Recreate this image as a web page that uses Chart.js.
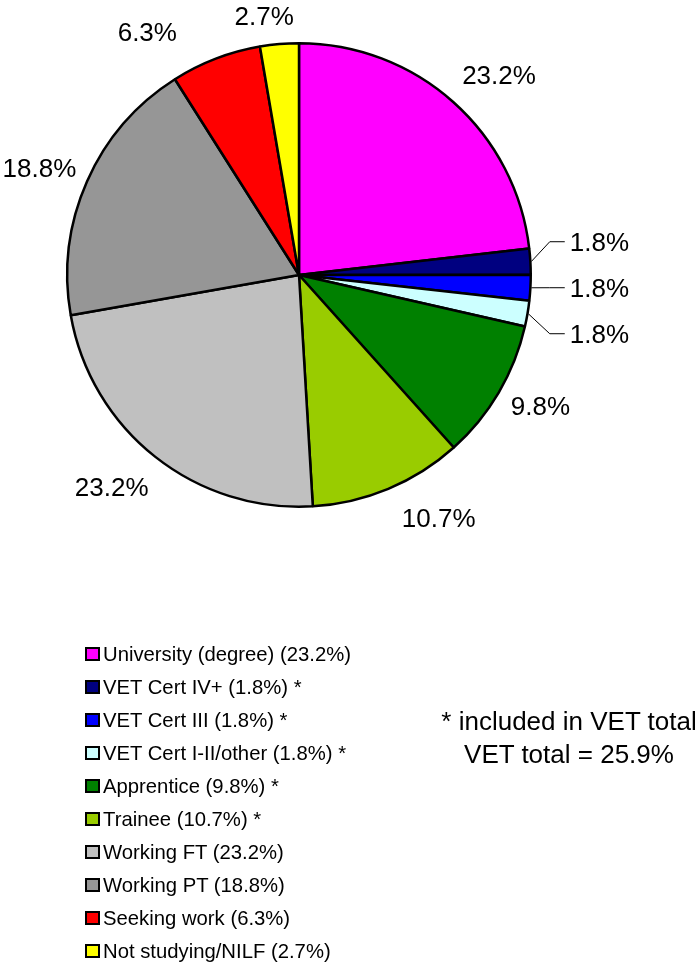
<!DOCTYPE html>
<html>
<head>
<meta charset="utf-8">
<script src="https://cdn.jsdelivr.net/npm/chart.js@4.4.1/dist/chart.umd.min.js"></script>
<style>
  html, body { margin: 0; padding: 0; background: #fff; }
  #wrap { position: relative; width: 700px; height: 964px; overflow: hidden; }
  #pie { position: absolute; left: 0; top: 0; }
  #legend { position: absolute; left: 85px; top: 0; font-family: "Liberation Sans", Arial, sans-serif; font-size: 20.3px; color: #000; }
  .row { position: absolute; left: 0; height: 24px; line-height: 24px; white-space: nowrap; }
  .box { position: absolute; left: 0; top: 5px; width: 11px; height: 10px; border: 2px solid #000; }
  .txt { position: absolute; left: 18px; top: 0; }
  #note { position: absolute; left: 419px; top: 705px; width: 300px; text-align: center; font-family: "Liberation Sans", Arial, sans-serif; font-size: 26px; line-height: 33px; color: #000; white-space: nowrap; }
</style>
</head>
<body>
<div id="wrap">
  <canvas id="pie" width="700" height="964"></canvas>
  <div id="legend"></div>
  <div id="note"></div>
</div>
<script>
// chart data
const categories = ['University (degree)', 'VET Cert IV+', 'VET Cert III', 'VET Cert I-II/other',
                    'Apprentice', 'Trainee', 'Working FT', 'Working PT', 'Seeking work', 'Not studying/NILF'];
const shares = [23.2, 1.8, 1.8, 1.8, 9.8, 10.7, 23.2, 18.8, 6.3, 2.7];
const inVetTotal = [false, true, true, true, true, true, false, false, false, false];
const vetTotal = 25.9;

const colors = ['#FF00FF', '#000080', '#0000FF', '#CCFFFF', '#008000',
                '#99CC00', '#C0C0C0', '#969696', '#FF0000', '#FFFF00'];

// label placement: small slices get a leader line, others sit outside the rim
const useLeader = [false, true, true, true, false, false, false, false, false, false];
const labelGap = [51, 0, 0, 0, 43, 48, 51, 49, 55, 30];      // px beyond the rim
const labelTurn = [3.3, 0, 0, 0, -2, -7.3, 3.2, -1.4, -10.9, -2.8]; // degrees from slice middle

const FONT = '"Liberation Sans", Arial, sans-serif';

const pieLabels = {
    id: 'pieLabels',
    afterDatasetsDraw(chart) {
        const ctx = chart.ctx;
        const meta = chart.getDatasetMeta(0);
        const size = 26;
        const capMid = 0.358 * size;
        ctx.save();
        ctx.font = size + 'px ' + FONT;
        ctx.fillStyle = '#000';
        ctx.textBaseline = 'alphabetic';

        const small = [];
        meta.data.forEach((arc, i) => {
            const p = arc.getProps(['x', 'y', 'startAngle', 'endAngle', 'outerRadius'], true);
            const mid = (p.startAngle + p.endAngle) / 2;
            const text = shares[i].toFixed(1) + '%';
            if (useLeader[i]) {
                small.push({ p: p, mid: mid, text: text });
                return;
            }
            const a = mid + labelTurn[i] * Math.PI / 180;
            const rho = p.outerRadius + labelGap[i];
            ctx.textAlign = 'center';
            ctx.fillText(text, p.x + rho * Math.cos(a), p.y + rho * Math.sin(a) + capMid);
        });

        // stack the small ones around their mean edge height
        if (small.length) {
            const edges = small.map(s => ({
                x: s.p.x + (s.p.outerRadius + 1) * Math.cos(s.mid),
                y: s.p.y + (s.p.outerRadius + 1) * Math.sin(s.mid)
            }));
            const meanY = edges.reduce((t, e) => t + e.y, 0) / edges.length;
            const step = 46;
            ctx.strokeStyle = '#000';
            ctx.lineWidth = 1;
            small.forEach((s, k) => {
                const ly = meanY + (k - (small.length - 1) / 2) * step;
                const elbowX = s.p.x + s.p.outerRadius + 19;
                ctx.beginPath();
                ctx.moveTo(edges[k].x, edges[k].y);
                ctx.lineTo(elbowX, ly);
                ctx.lineTo(elbowX + 15, ly);
                ctx.stroke();
                ctx.textAlign = 'left';
                ctx.fillText(s.text, elbowX + 20, ly + capMid);
            });
        }
        ctx.restore();
    }
};

const ctx = document.getElementById('pie').getContext('2d');
const chart = new Chart(ctx, {
    type: 'pie',
    data: {
        labels: categories,
        datasets: [{
            data: shares,
            backgroundColor: colors,
            borderColor: '#000',
            borderWidth: 2.5
        }]
    },
    options: {
        responsive: false,
        animation: false,
        events: [],
        layout: { padding: { left: 66, right: 168, top: 42, bottom: 456 } },
        plugins: {
            legend: { display: false },
            tooltip: { enabled: false }
        }
    },
    plugins: [pieLabels]
});

// legend built from the same arrays
const legend = document.getElementById('legend');
categories.forEach((c, i) => {
    const row = document.createElement('div');
    row.className = 'row';
    row.style.top = (642 + 33 * i) + 'px';
    const box = document.createElement('div');
    box.className = 'box';
    box.style.background = colors[i];
    const txt = document.createElement('span');
    txt.className = 'txt';
    txt.textContent = c + ' (' + shares[i].toFixed(1) + '%)' + (inVetTotal[i] ? ' *' : '');
    row.appendChild(box);
    row.appendChild(txt);
    legend.appendChild(row);
});

document.getElementById('note').innerHTML =
    '* included in VET total<br>VET total = ' + vetTotal.toFixed(1) + '%';
</script>
</body>
</html>
